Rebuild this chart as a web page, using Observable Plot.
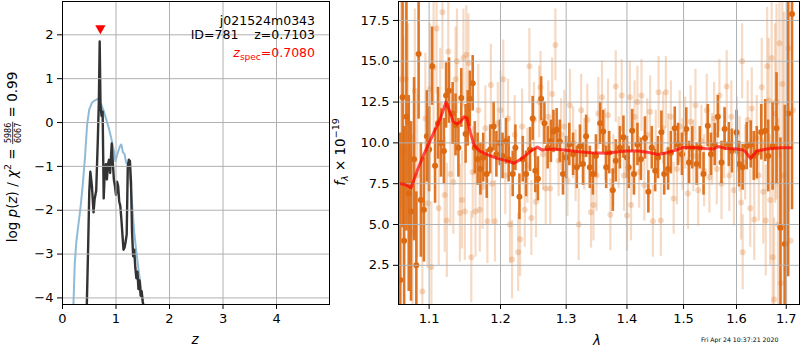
<!DOCTYPE html>
<html><head><meta charset="utf-8">
<script src="https://cdn.jsdelivr.net/npm/d3@7"></script>
<script src="https://cdn.jsdelivr.net/npm/@observablehq/plot@0.6"></script>
<style>
body{margin:0;background:#fff;}
#wrap{position:relative;width:800px;height:350px;font-family:"DejaVu Sans",sans-serif;}
#wrap svg{position:absolute;left:0;top:0;overflow:visible;}
</style></head><body><div id="wrap"></div>
<script>
// ---------- left panel: log p(z) ----------
const zTicks = [0, 1, 2, 3, 4];
const logpTicks = [-4, -3, -2, -1, 0, 1, 2];
const priorZ = [0.20, 0.23, 0.26, 0.30, 0.34, 0.38, 0.42, 0.46, 0.50, 0.55, 0.60, 0.66, 0.71, 0.76, 0.81, 0.86, 0.91, 0.96, 0.99, 1.03, 1.07, 1.10, 1.13, 1.16, 1.19, 1.22, 1.25, 1.28, 1.31, 1.34, 1.38, 1.42, 1.46, 1.50, 1.54];
const priorLogP = [-4.3, -3.2, -2.7, -2.3, -1.9, -1.4, -0.8, -0.05, 0.3, 0.45, 0.5, 0.54, 0.45, 0.3, 0.1, -0.1, -0.35, -0.65, -0.88, -0.7, -0.55, -0.5, -0.68, -0.72, -0.92, -0.95, -1.1, -1.5, -2.0, -2.5, -2.95, -3.35, -3.7, -4.05, -4.4];
const pzZ = [0.45, 0.48, 0.50, 0.52, 0.55, 0.58, 0.60, 0.63, 0.66, 0.68, 0.695, 0.71, 0.73, 0.75, 0.77, 0.79, 0.81, 0.83, 0.85, 0.87, 0.89, 0.92, 0.94, 0.96, 0.98, 1.00, 1.02, 1.04, 1.06, 1.08, 1.10, 1.12, 1.14, 1.16, 1.18, 1.20, 1.22, 1.24, 1.26, 1.28, 1.30, 1.32, 1.34, 1.36, 1.38, 1.40, 1.42, 1.44, 1.46, 1.48, 1.50, 1.52, 1.54];
const pzLogP = [-4.4, -2.8, -1.6, -1.12, -1.45, -2.05, -1.75, -1.55, -0.4, 0.5, 1.85, 0.4, 0.15, 0.25, -1.73, -1.1, -0.95, -1.3, -0.95, -0.85, -1.15, -0.48, -0.9, -1.3, -1.45, -1.65, -1.35, -1.45, -1.8, -1.9, -2.2, -2.55, -2.9, -2.85, -2.72, -2.55, -1.0, -0.85, -0.88, -1.35, -2.5, -3.05, -2.9, -3.3, -3.55, -3.4, -3.8, -3.6, -3.95, -3.85, -4.1, -4.2, -4.4];
const zSpec = [0.708];
const zSpecMarkerLevel = [2.15];

// ---------- right panel: spectrum ----------
const lamTicks = [1.1, 1.2, 1.3, 1.4, 1.5, 1.6, 1.7];
const fluxTicks = [2.5, 5.0, 7.5, 10.0, 12.5, 15.0, 17.5];

const darkWave = [1.062, 1.065, 1.067, 1.070, 1.073, 1.076, 1.080, 1.083, 1.086, 1.089, 1.093, 1.097, 1.100, 1.104, 1.108, 1.112, 1.116, 1.120, 1.123, 1.127, 1.132, 1.136, 1.140, 1.144, 1.150, 1.153, 1.156, 1.160, 1.163, 1.167, 1.171, 1.175, 1.180, 1.185, 1.190, 1.194, 1.199, 1.203, 1.208, 1.212, 1.218, 1.222, 1.228, 1.233, 1.238, 1.244, 1.248, 1.252, 1.256, 1.261, 1.266, 1.271, 1.276, 1.280, 1.285, 1.290, 1.295, 1.300, 1.305, 1.311, 1.317, 1.322, 1.327, 1.332, 1.338, 1.343, 1.348, 1.355, 1.360, 1.365, 1.370, 1.376, 1.381, 1.388, 1.394, 1.400, 1.403, 1.409, 1.412, 1.418, 1.424, 1.431, 1.437, 1.443, 1.449, 1.454, 1.460, 1.465, 1.472, 1.477, 1.484, 1.490, 1.497, 1.505, 1.510, 1.516, 1.524, 1.530, 1.537, 1.545, 1.551, 1.558, 1.564, 1.571, 1.577, 1.585, 1.591, 1.600, 1.605, 1.612, 1.620, 1.628, 1.634, 1.640, 1.649, 1.657, 1.663, 1.672, 1.680, 1.688, 1.697, 1.704, 1.712];
const darkFlux = [1.6, 12.8, 4.0, 11.6, 6.9, 5.8, 9.0, 2.5, 15.45, 6.5, 5.9, 10.4, 9.6, 14.7, 8.6, 11.2, 10.0, 9.5, 12.9, 13.2, 11.8, 11.1, 9.7, 12.75, 10.55, 11.5, 12.7, 13.65, 9.7, 9.0, 8.4, 9.1, 8.1, 9.6, 11.0, 9.3, 10.0, 9.2, 10.1, 9.0, 8.1, 9.7, 6.7, 9.0, 8.1, 9.6, 11.5, 8.3, 7.8, 12.7, 11.2, 9.7, 10.1, 10.7, 10.8, 10.1, 8.1, 9.1, 9.9, 9.3, 8.5, 9.8, 8.7, 10.4, 8.5, 8.1, 9.2, 11.2, 10.7, 8.5, 9.4, 7.1, 8.9, 9.7, 10.35, 9.1, 8.5, 10.75, 8.1, 9.9, 9.0, 10.3, 7.0, 9.7, 8.3, 9.1, 10.65, 8.1, 8.4, 9.4, 10.9, 9.9, 9.3, 10.85, 8.8, 9.7, 8.7, 9.7, 8.1, 11.05, 9.3, 9.9, 11.6, 8.8, 10.85, 9.9, 9.5, 10.65, 8.7, 8.5, 9.8, 9.9, 9.2, 9.4, 10.65, 10.75, 9.2, 9.8, 10.9, 4.8, 3.8, 11.8, 17.9];
const darkErr = [9, 8, 7, 7, 6, 5.5, 5, 4.5, 4, 3.5, 3.2, 2.8, 2.6, 2.4, 2.3, 2.2, 2.1, 2.0, 2.0, 2.0, 1.9, 1.9, 1.8, 1.8, 1.8, 1.7, 1.7, 1.7, 1.6, 1.6, 1.6, 1.5, 1.5, 1.5, 1.5, 1.4, 1.4, 1.4, 1.4, 1.4, 1.4, 1.4, 1.4, 1.4, 1.4, 1.35, 1.35, 1.35, 1.35, 1.35, 1.3, 1.3, 1.3, 1.3, 1.3, 1.3, 1.3, 1.3, 1.3, 1.3, 1.3, 1.3, 1.3, 1.3, 1.3, 1.3, 1.3, 1.3, 1.3, 1.3, 1.3, 1.3, 1.3, 1.3, 1.3, 1.3, 1.3, 1.3, 1.3, 1.3, 1.3, 1.3, 1.3, 1.3, 1.3, 1.3, 1.3, 1.3, 1.3, 1.3, 1.3, 1.3, 1.3, 1.3, 1.3, 1.3, 1.3, 1.3, 1.3, 1.3, 1.3, 1.3, 1.3, 1.3, 1.3, 1.35, 1.35, 1.35, 1.4, 1.4, 1.45, 1.45, 1.5, 1.6, 1.7, 1.9, 2.2, 2.7, 3.4, 5.5, 8.5, 10, 12];

const lightWave = [1.063, 1.066, 1.069, 1.072, 1.078, 1.081, 1.084, 1.091, 1.095, 1.098, 1.101, 1.103, 1.106, 1.110, 1.113, 1.115, 1.118, 1.121, 1.124, 1.126, 1.129, 1.133, 1.136, 1.138, 1.142, 1.145, 1.147, 1.149, 1.151, 1.154, 1.158, 1.160, 1.164, 1.168, 1.170, 1.174, 1.178, 1.181, 1.186, 1.188, 1.192, 1.196, 1.200, 1.204, 1.207, 1.211, 1.214, 1.217, 1.221, 1.226, 1.229, 1.232, 1.236, 1.240, 1.243, 1.246, 1.250, 1.253, 1.258, 1.260, 1.264, 1.268, 1.272, 1.275, 1.278, 1.283, 1.288, 1.292, 1.297, 1.302, 1.306, 1.311, 1.315, 1.320, 1.324, 1.329, 1.334, 1.340, 1.344, 1.349, 1.352, 1.358, 1.363, 1.368, 1.372, 1.377, 1.381, 1.386, 1.391, 1.395, 1.400, 1.405, 1.407, 1.413, 1.418, 1.421, 1.425, 1.430, 1.435, 1.440, 1.445, 1.450, 1.455, 1.459, 1.463, 1.468, 1.472, 1.477, 1.482, 1.488, 1.493, 1.498, 1.503, 1.508, 1.513, 1.518, 1.522, 1.527, 1.533, 1.538, 1.543, 1.548, 1.553, 1.557, 1.562, 1.567, 1.571, 1.576, 1.581, 1.586, 1.590, 1.595, 1.601, 1.606, 1.609, 1.611, 1.612, 1.617, 1.622, 1.627, 1.630, 1.635, 1.640, 1.644, 1.650, 1.653, 1.658, 1.661, 1.664, 1.667, 1.670, 1.672, 1.675, 1.677, 1.680, 1.683, 1.686, 1.689, 1.692, 1.695, 1.700, 1.705, 1.709, 1.714];
const lightFlux = [13.9, 9.5, 13.9, 11.3, 4.5, 13.2, 8.0, 0.9, 11.5, 6.3, 13.3, 2.4, 14.6, 17.0, 6.0, 12.3, 18.0, 6.8, 5.25, 15.6, 8.1, 7.6, 13.9, 15.0, 5.7, 6.5, 15.2, 5.8, 15.4, 14.9, 3.0, 8.2, 5.8, 12.0, 5.9, 7.3, 10.9, 5.2, 13.55, 7.5, 5.2, 11.2, 12.0, 13.9, 8.0, 11.5, 5.0, 2.85, 10.5, 3.3, 4.1, 11.0, 5.9, 8.6, 14.7, 5.4, 11.4, 6.4, 12.5, 13.4, 9.3, 7.2, 11.6, 7.2, 13.0, 16.0, 8.9, 10.5, 11.0, 7.7, 12.3, 10.0, 8.6, 5.0, 12.0, 9.3, 11.4, 5.75, 6.2, 8.0, 11.8, 12.8, 9.9, 11.7, 5.6, 8.3, 13.45, 9.4, 12.9, 8.0, 5.55, 12.8, 6.2, 11.6, 12.5, 8.2, 12.9, 7.4, 10.5, 11.9, 5.2, 9.8, 13.1, 5.25, 10.9, 13.1, 9.6, 11.6, 6.6, 8.4, 11.0, 9.3, 10.6, 6.9, 11.3, 9.2, 12.3, 7.1, 10.1, 8.3, 12.0, 7.9, 9.6, 11.5, 8.4, 12.9, 7.5, 10.0, 13.45, 8.0, 11.6, 7.1, 10.5, 9.3, 6.35, 15.0, 3.3, 8.8, 11.4, 6.0, 12.1, 5.3, 10.3, 8.0, 13.4, 7.0, 5.25, 14.7, 12.6, 6.5, 15.2, 3.0, 0.4, 11.8, 12.5, 5.0, 16.1, 1.4, 13.6, 8.0, 2.3, 15.8, 4.0, 12.0];
const lightErr = [8, 7, 7, 6, 6, 5, 5, 5, 4, 4, 4, 4, 4, 4, 3.5, 3.5, 3.5, 3.5, 3.5, 3.5, 3.2, 3.2, 3.2, 3.2, 3.0, 3.0, 3.0, 3.0, 3.0, 3.0, 2.8, 2.8, 2.8, 2.8, 2.6, 2.6, 2.6, 2.6, 2.5, 2.5, 2.5, 2.5, 2.4, 2.4, 2.4, 2.4, 2.4, 2.4, 2.4, 2.4, 2.3, 2.3, 2.3, 2.3, 2.3, 2.3, 2.3, 2.2, 2.2, 2.2, 2.2, 2.2, 2.2, 2.2, 2.2, 2.2, 2.2, 2.2, 2.2, 2.2, 2.2, 2.2, 2.2, 2.2, 2.2, 2.2, 2.2, 2.2, 2.2, 2.2, 2.2, 2.2, 2.2, 2.2, 2.2, 2.2, 2.2, 2.2, 2.2, 2.2, 2.2, 2.2, 2.2, 2.2, 2.2, 2.2, 2.2, 2.2, 2.2, 2.2, 2.2, 2.2, 2.2, 2.2, 2.2, 2.2, 2.2, 2.2, 2.2, 2.2, 2.2, 2.2, 2.2, 2.2, 2.2, 2.2, 2.2, 2.2, 2.2, 2.2, 2.2, 2.2, 2.2, 2.2, 2.2, 2.2, 2.2, 2.2, 2.2, 2.2, 2.2, 2.2, 2.3, 2.3, 2.3, 2.3, 2.3, 2.3, 2.4, 2.4, 2.5, 2.5, 2.6, 2.8, 3.0, 3.2, 3.4, 3.6, 3.8, 4.0, 4.4, 4.6, 5.0, 5.5, 6, 6.5, 7, 8, 9, 10, 10, 10];

const modelWave = [1.063, 1.068, 1.076, 1.085, 1.093, 1.100, 1.108, 1.116, 1.123, 1.128, 1.133, 1.138, 1.143, 1.148, 1.152, 1.157, 1.162, 1.170, 1.180, 1.195, 1.210, 1.220, 1.232, 1.245, 1.255, 1.262, 1.280, 1.300, 1.320, 1.340, 1.365, 1.385, 1.400, 1.420, 1.440, 1.455, 1.470, 1.485, 1.500, 1.520, 1.540, 1.555, 1.565, 1.580, 1.600, 1.615, 1.628, 1.640, 1.660, 1.690, 1.710];
const modelFlux = [7.5, 7.45, 7.25, 8.4, 9.3, 10.0, 10.8, 11.6, 12.5, 11.9, 11.3, 11.15, 11.3, 11.6, 11.5, 10.6, 9.85, 9.5, 9.3, 9.05, 8.9, 8.75, 9.05, 9.5, 9.74, 9.57, 9.62, 9.55, 9.45, 9.4, 9.37, 9.45, 9.5, 9.5, 9.4, 9.29, 9.4, 9.55, 9.72, 9.72, 9.65, 9.62, 9.78, 9.65, 9.63, 9.55, 9.05, 9.5, 9.62, 9.7, 9.7];

// ---------- tables ----------
const prior = priorZ.map((z, i) => ({z, v: priorLogP[i]}));
const pz = pzZ.map((z, i) => ({z, v: pzLogP[i]}));
const marker = zSpec.map((z, i) => ({z, v: zSpecMarkerLevel[i]}));
const dark = darkWave.map((w, i) => ({w, f: darkFlux[i], e: darkErr[i]}));
const light = lightWave.map((w, i) => ({w, f: lightFlux[i], e: lightErr[i]}));
const model = modelWave.map((w, i) => ({w, f: modelFlux[i]}));

const ORANGE = "#dc6a12";
const GRID = "#b0b0b0";
const minus = d => (d < 0 ? "\u2212" : "") + Math.abs(d);
const axisStyle = {fontFamily: "DejaVu Sans", fontSize: "13px", color: "black", background: "transparent", overflow: "visible"};

const left = Plot.plot({
  width: 335, height: 350,
  marginLeft: 62, marginRight: 6, marginTop: 1, marginBottom: 46,
  style: axisStyle,
  x: {domain: [0, 4.99]},
  y: {domain: [-4.15, 2.76]},
  marks: [
    Plot.line(prior, {x: "z", y: "v", stroke: "#8fbbd9", strokeWidth: 2, clip: true}),
    Plot.line(pz, {x: "z", y: "v", stroke: "#333333", strokeWidth: 2.4, clip: true}),
    Plot.gridX(zTicks, {stroke: GRID, strokeOpacity: 1, strokeWidth: 1}),
    Plot.gridY(logpTicks, {stroke: GRID, strokeOpacity: 1, strokeWidth: 1}),
    Plot.dot(marker, {x: "z", y: "v", symbol: "triangle", rotate: 180, r: 3.8, fill: "red", stroke: "none"}),
    Plot.axisX(zTicks, {tickSize: 5, tickPadding: 4, tickFormat: d => String(d), label: null}),
    Plot.axisY(logpTicks, {tickSize: 5, tickPadding: 4, tickFormat: minus, label: null}),
    Plot.frame({stroke: "black", strokeWidth: 1})
  ]
});

const right = Plot.plot({
  width: 465, height: 350,
  marginLeft: 63, marginRight: 1, marginTop: 1, marginBottom: 46,
  style: axisStyle,
  x: {type: "log", domain: [1.0597, 1.7277]},
  y: {domain: [0.1, 18.66]},
  marks: [
    Plot.ruleX(light, {x: "w", y1: d => d.f - d.e, y2: d => d.f + d.e, stroke: ORANGE, strokeOpacity: 0.25, strokeWidth: 2.2, clip: true}),
    Plot.dot(light, {x: "w", y: "f", r: 3, fill: ORANGE, fillOpacity: 0.25, stroke: "none", clip: true}),
    Plot.ruleX(dark, {x: "w", y1: d => d.f - d.e, y2: d => d.f + d.e, stroke: ORANGE, strokeOpacity: 0.92, strokeWidth: 2.6, clip: true}),
    Plot.dot(dark, {x: "w", y: "f", r: 3, fill: ORANGE, stroke: "none", clip: true}),
    Plot.gridX(lamTicks, {stroke: GRID, strokeOpacity: 1, strokeWidth: 1}),
    Plot.gridY(fluxTicks, {stroke: GRID, strokeOpacity: 1, strokeWidth: 1}),
    Plot.line(model, {x: "w", y: "f", stroke: "red", strokeOpacity: 0.7, strokeWidth: 3, clip: true}),
    Plot.axisX(lamTicks, {tickSize: 5, tickPadding: 4, tickFormat: d => d.toFixed(1), label: null}),
    Plot.axisY(fluxTicks, {tickSize: 5, tickPadding: 4, tickFormat: d => d.toFixed(1), label: null}),
    Plot.frame({stroke: "black", strokeWidth: 1})
  ]
});

const wrap = document.getElementById("wrap");
left.style.left = "0px";
right.style.left = "335px";
wrap.appendChild(left);
wrap.appendChild(right);

// ---------- overlay text ----------
const ov = d3.select(wrap).append("svg")
  .attr("width", 800).attr("height", 350)
  .attr("font-family", "DejaVu Sans").style("pointer-events", "none");

// annotations top-right of left panel
const ann = ov.append("g").attr("font-size", 12.5).attr("text-anchor", "end").attr("fill", "black");
ann.append("text").attr("x", 315).attr("y", 24.5).text("j021524m0343");
ann.append("text").attr("x", 315).attr("y", 39).style("white-space", "pre").text("ID=781    z=0.7103");
const zs = ann.append("text").attr("x", 315).attr("y", 57).attr("fill", "red");
zs.append("tspan").attr("font-style", "italic").text("z");
zs.append("tspan").attr("font-size", 9).attr("dy", 3).text("spec");
zs.append("tspan").attr("dy", -3).text("=0.7080");

// left y label with fraction
(function () {
  const g = ov.append("g").attr("font-size", 13.5);
  const inner = g.append("g");
  const t1 = inner.append("text").attr("x", 0).attr("y", 0);
  t1.append("tspan").text("log ");
  t1.append("tspan").attr("font-style", "italic").text("p");
  t1.append("tspan").text("(");
  t1.append("tspan").attr("font-style", "italic").text("z");
  t1.append("tspan").text(") / ");
  t1.append("tspan").attr("font-style", "italic").text("\u03c7");
  t1.append("tspan").attr("font-size", 9.5).attr("dy", -6).text("2");
  t1.append("tspan").attr("dy", 6).style("white-space", "pre").text(" = ");
  const w1 = t1.node().getComputedTextLength();
  const num = inner.append("text").attr("font-size", 8).attr("x", w1 + 1).attr("y", -6).text("5986");
  const den = inner.append("text").attr("font-size", 8).attr("x", w1 + 1).attr("y", 4).text("6067");
  const wf = Math.max(num.node().getComputedTextLength(), den.node().getComputedTextLength());
  inner.append("line").attr("x1", w1).attr("x2", w1 + wf + 2).attr("y1", -4.3).attr("y2", -4.3).attr("stroke", "black").attr("stroke-width", 0.8);
  const t2 = inner.append("text").attr("x", w1 + wf + 2).attr("y", 0).style("white-space", "pre").text(" = 0.99");
  const total = w1 + wf + 2 + t2.node().getComputedTextLength();
  inner.attr("transform", `translate(${-total / 2},0)`);
  g.attr("transform", "translate(17,157) rotate(-90)");
})();

// right y label
(function () {
  const g = ov.append("g").attr("font-size", 13.5).attr("transform", "translate(345,152) rotate(-90)");
  const t = g.append("text").attr("text-anchor", "middle");
  t.append("tspan").attr("font-style", "italic").text("f");
  t.append("tspan").attr("font-style", "italic").attr("font-size", 9.5).attr("dy", 3).text("\u03bb");
  t.append("tspan").attr("dy", -3).style("white-space", "pre").text(" \u00d7 10");
  t.append("tspan").attr("font-size", 9.5).attr("dy", -6).text("\u221219");
})();

// x labels
ov.append("text").attr("x", 195).attr("y", 344).attr("text-anchor", "middle").attr("font-size", 13.5).attr("font-style", "italic").text("z");
ov.append("text").attr("x", 597).attr("y", 345).attr("text-anchor", "middle").attr("font-size", 13.5).attr("font-style", "italic").text("\u03bb");

// timestamp
ov.append("text").attr("x", 701).attr("y", 342).attr("font-size", 6.2).text("Fri Apr 24 10:37:21 2020");
</script>
</body></html>
